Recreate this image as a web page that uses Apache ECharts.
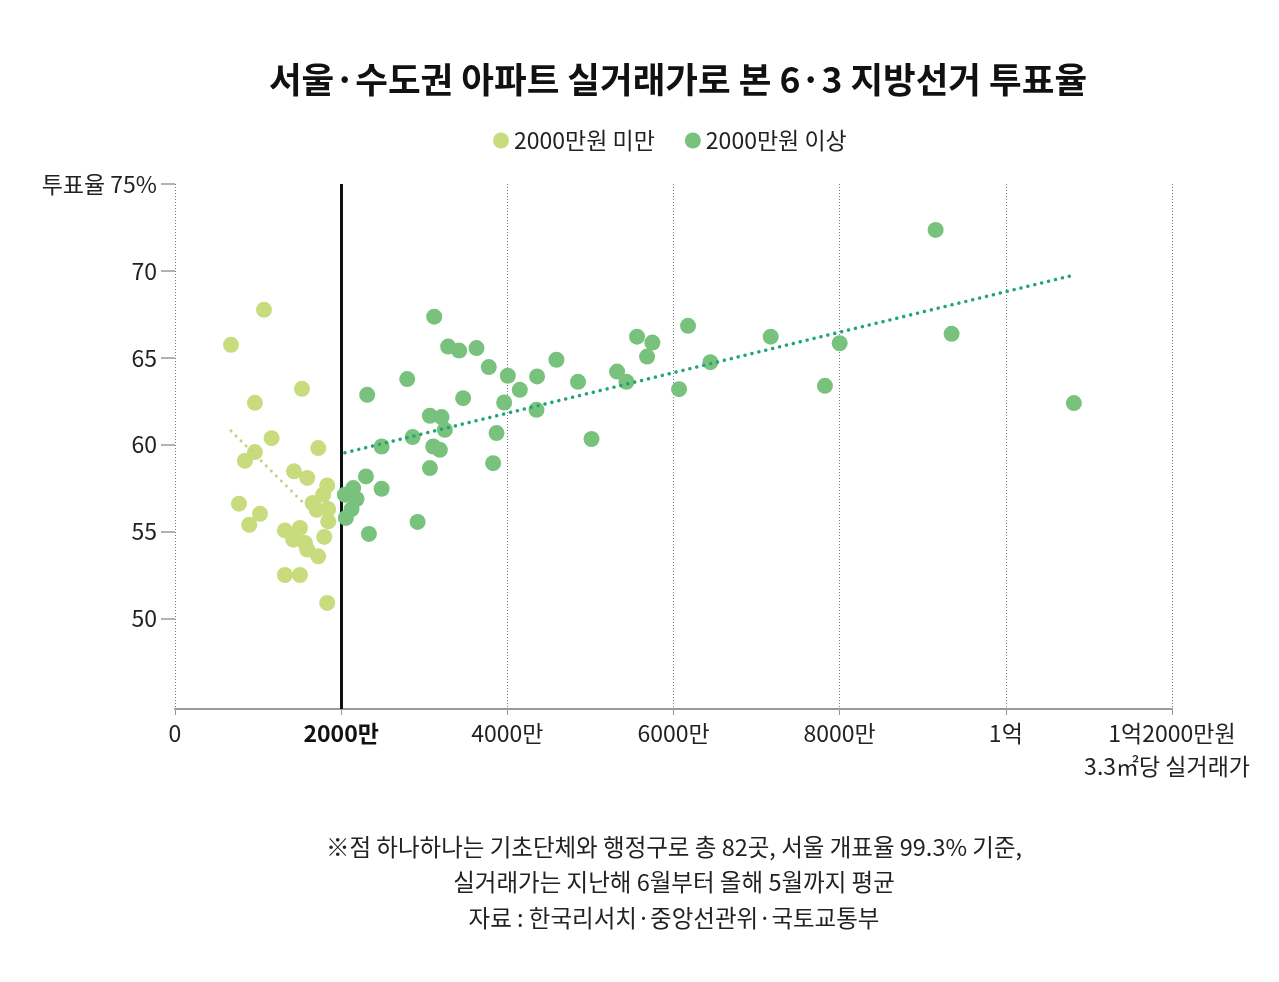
<!DOCTYPE html>
<html>
<head>
<meta charset="utf-8">
<script src="https://cdn.jsdelivr.net/npm/echarts@6/dist/echarts.min.js"></script>
<style>
  html, body { margin: 0; padding: 0; background: #fff; }
  #chart { width: 1279px; height: 982px; }
</style>
</head>
<body>
<div id="chart"></div>
<script>
// 3.3㎡당 실거래가(만원), 투표율(%)
const lowPrice = [674, 1071, 962, 1528, 1163, 1724, 962, 842, 1432, 1592, 770, 1832, 1023, 894,
  1784, 1657, 1705, 1844, 1844, 1323, 1504, 1423, 1564, 1592, 1724, 1796, 1323, 1504, 1832]
const lowTurnout = [65.75, 67.76, 62.41, 63.22, 60.38, 59.81, 59.58, 59.08, 58.47, 58.09, 56.61, 57.66, 56.03, 55.40,
  57.13, 56.65, 56.26, 56.30, 55.59, 55.07, 55.21, 54.54, 54.35, 53.97, 53.58, 54.70, 52.51, 52.51, 50.90]

const highPrice = [2487, 2298, 2487, 2045, 2145, 2185, 2125, 2057, 2334,
  3120, 3288, 3420, 3629, 3777, 4006, 4150, 4358, 4591, 4851, 5321, 5434, 5561, 5746, 5682, 6067, 6175,
  2795, 2313, 3468, 3962, 4351, 3068, 3208, 3248, 3870, 2860, 3108, 3188, 3068, 3829, 5013, 2920,
  6444, 7170, 8000, 7823, 9155, 9347, 10819]
const highTurnout = [59.90, 58.18, 57.47, 57.13, 57.51, 56.88, 56.30, 55.79, 54.87,
  67.37, 65.65, 65.42, 65.56, 64.47, 63.97, 63.16, 63.93, 64.89, 63.62, 64.21, 63.62, 66.22, 65.88, 65.07, 63.20, 66.84,
  63.78, 62.87, 62.68, 62.43, 62.01, 61.67, 61.59, 60.86, 60.67, 60.44, 59.90, 59.71, 58.66, 58.94, 60.33, 55.56,
  64.75, 66.22, 65.84, 63.39, 72.36, 66.38, 62.40]

// 추세선 양 끝
const lowTrend = [[674, 60.80], [1540, 56.68]]
const highTrend = [[2045, 59.54], [10827, 69.77]]

const yTicks = [50, 55, 60, 65, 70, 75]

const notes = [
  '※점 하나하나는 기초단체와 행정구로 총 82곳, 서울 개표율 99.3% 기준,',
  '실거래가는 지난해 6월부터 올해 5월까지 평균',
  '자료 : 한국리서치·중앙선관위·국토교통부'
]

const lowColor = '#c8dc7d'
const highColor = '#78c27e'
const font = '"Noto Sans CJK KR", "Noto Sans", sans-serif'

const chart = echarts.init(document.getElementById('chart'))

const xLabel = (v) => {
  if (v === 0) return '0'
  if (v === 2000) return '{b|2000만}'
  if (v === 10000) return '1억'
  if (v === 12000) return '1억2000만원'
  return v + '만'
}

chart.setOption({
  animation: false,
  textStyle: { fontFamily: font },
  title: {
    text: '서울·수도권 아파트 실거래가로 본 6·3 지방선거 투표율',
    left: 673,
    textAlign: 'center',
    top: 57,
    textStyle: { fontSize: 35.5, fontWeight: 'bold', color: '#111', fontFamily: font }
  },
  legend: {
    top: 124,
    left: 488,
    icon: 'circle',
    itemWidth: 16,
    itemHeight: 16,
    itemGap: 30,
    textStyle: { fontSize: 23, color: '#222', fontFamily: font },
    data: ['2000만원 미만', '2000만원 이상']
  },
  grid: { left: 175, right: 107, top: 184, bottom: 273 },
  xAxis: {
    type: 'value',
    min: 0,
    max: 12000,
    interval: 2000,
    axisLine: { lineStyle: { color: '#999', width: 2 } },
    axisTick: { length: 6, lineStyle: { color: '#999' } },
    splitLine: { show: true, lineStyle: { color: '#777', type: [1, 2], width: 1 } },
    axisLabel: {
      margin: 13,
      fontSize: 23,
      color: '#222',
      formatter: xLabel,
      rich: { b: { fontSize: 23, fontWeight: 'bold', color: '#111', fontFamily: font } }
    }
  },
  yAxis: {
    type: 'value',
    min: 44.8,
    max: 75,
    axisLine: { show: false },
    splitLine: { show: false },
    axisTick: { show: true, length: 14, customValues: yTicks, lineStyle: { color: '#999', width: 1.5 } },
    axisLabel: {
      margin: 18,
      fontSize: 23,
      color: '#222',
      customValues: yTicks,
      formatter: (v) => (v === 75 ? '투표율 75%' : String(v))
    }
  },
  series: [
    {
      name: '2000만원 미만',
      type: 'scatter',
      symbolSize: 16,
      itemStyle: { color: lowColor, opacity: 1 },
      data: lowPrice.map((x, i) => [x, lowTurnout[i]]),
      z: 3
    },
    {
      name: '2000만원 이상',
      type: 'scatter',
      symbolSize: 16,
      itemStyle: { color: highColor, opacity: 1 },
      data: highPrice.map((x, i) => [x, highTurnout[i]]),
      z: 3,
      markLine: {
        silent: true,
        symbol: 'none',
        label: { show: false },
        lineStyle: { color: '#111', width: 3, type: 'solid' },
        data: [{ xAxis: 2000 }],
        z: 2
      }
    },
    {
      type: 'line',
      data: lowTrend,
      symbol: 'none',
      lineStyle: { color: '#bfd38a', width: 3, type: [0.1, 7], cap: 'round' },
      z: 4
    },
    {
      type: 'line',
      data: highTrend,
      symbol: 'none',
      lineStyle: { color: '#22a678', width: 3.5, type: [0.1, 7], cap: 'round' },
      z: 4
    }
  ],
  graphic: [
    {
      type: 'text',
      right: 29,
      top: 755,
      style: { text: '3.3㎡당 실거래가', font: '23px ' + font, fill: '#222' }
    },
    ...notes.map((t, i) => ({
      type: 'text',
      x: 674,
      y: 835 + i * 35.5,
      style: { text: t, font: '23.5px ' + font, fill: '#222', align: 'center' }
    }))
  ]
})
</script>
</body>
</html>
